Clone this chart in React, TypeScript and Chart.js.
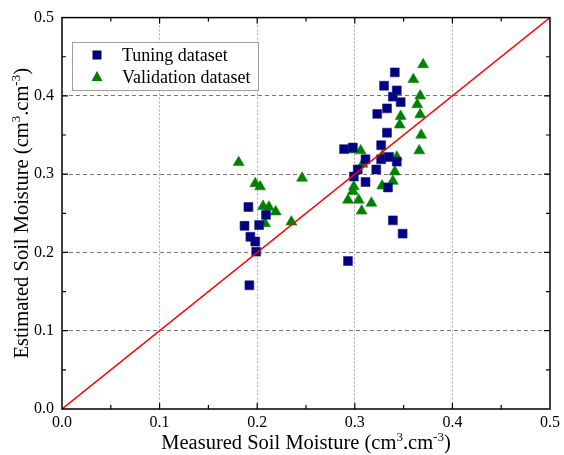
import React, { useEffect, useRef } from 'react';
import { Chart, registerables } from 'chart.js';

Chart.register(...registerables);

const tuningX = [0.192, 0.199, 0.198, 0.193, 0.187, 0.202, 0.209, 0.191, 0.293, 0.349, 0.339, 0.334, 0.311, 0.299, 0.303, 0.322, 0.311, 0.327, 0.335, 0.343, 0.289, 0.298, 0.327, 0.333, 0.323, 0.333, 0.347, 0.339, 0.343, 0.330, 0.341];
const tuningY = [0.158, 0.201, 0.214, 0.220, 0.234, 0.235, 0.248, 0.258, 0.189, 0.224, 0.241, 0.283, 0.290, 0.297, 0.306, 0.306, 0.319, 0.319, 0.322, 0.316, 0.332, 0.334, 0.337, 0.353, 0.377, 0.384, 0.392, 0.399, 0.407, 0.413, 0.430];
const validX = [0.181, 0.246, 0.198, 0.203, 0.206, 0.212, 0.219, 0.208, 0.235, 0.370, 0.360, 0.367, 0.364, 0.367, 0.347, 0.346, 0.368, 0.366, 0.296, 0.306, 0.343, 0.328, 0.308, 0.341, 0.339, 0.328, 0.299, 0.298, 0.293, 0.304, 0.317, 0.307];
const validY = [0.315, 0.295, 0.288, 0.284, 0.259, 0.258, 0.252, 0.237, 0.239, 0.440, 0.421, 0.400, 0.389, 0.376, 0.374, 0.363, 0.350, 0.330, 0.331, 0.330, 0.322, 0.323, 0.313, 0.303, 0.291, 0.285, 0.284, 0.278, 0.267, 0.267, 0.263, 0.253];
const lineX = [0, 0.5];
const lineY = [0, 0.5];
const seriesNames = ['Tuning dataset', 'Validation dataset'];
// axis titles: [text, isSuperscript]
const xTitleParts: [string, boolean][] = [['Measured Soil Moisture (cm', false], ['3', true], ['.cm', false], ['-3', true], [')', false]];
const yTitleParts: [string, boolean][] = [['Estimated Soil Moisture (cm', false], ['3', true], ['.cm', false], ['-3', true], [')', false]];
const axisMin = 0;
const axisMax = 0.5;
const majorStep = 0.1;

const FONT = '"Liberation Serif", "Times New Roman", serif';
const BLUE = '#000080';
const GREEN = '#008000';
const TITLE_SIZE = 20.5;
const SUP_SIZE = 13;

function drawTitle(ctx: CanvasRenderingContext2D, parts: [string, boolean][]) {
  const fontFor = (sup: boolean) => (sup ? SUP_SIZE : TITLE_SIZE) + 'px ' + FONT;
  let total = 0;
  for (const [t, sup] of parts) {
    ctx.font = fontFor(sup);
    total += ctx.measureText(t).width;
  }
  let x = -total / 2;
  ctx.textAlign = 'left';
  ctx.textBaseline = 'alphabetic';
  ctx.fillStyle = '#000';
  for (const [t, sup] of parts) {
    ctx.font = fontFor(sup);
    ctx.fillText(t, x, sup ? -8 : 0);
    x += ctx.measureText(t).width;
  }
}

const framePlugin = {
  id: 'frameTicks',
  afterDatasetsDraw(chart: any) {
    const { ctx, chartArea: a, scales } = chart;
    const xs = scales.x;
    const ys = scales.y;
    ctx.save();
    ctx.strokeStyle = '#000';
    ctx.lineWidth = 1.5;
    ctx.strokeRect(a.left, a.top, a.right - a.left, a.bottom - a.top);
    ctx.lineWidth = 1.2;
    const n = Math.round((axisMax - axisMin) / (majorStep / 2));
    for (let i = 1; i < n; i++) {
      const v = axisMin + (i * majorStep) / 2;
      const len = i % 2 === 0 ? 6 : 4;
      const px = xs.getPixelForValue(v);
      const py = ys.getPixelForValue(v);
      ctx.beginPath();
      ctx.moveTo(px, a.bottom);
      ctx.lineTo(px, a.bottom - len);
      ctx.moveTo(px, a.top);
      ctx.lineTo(px, a.top + len);
      ctx.moveTo(a.left, py);
      ctx.lineTo(a.left + len, py);
      ctx.moveTo(a.right, py);
      ctx.lineTo(a.right - len, py);
      ctx.stroke();
    }
    ctx.restore();
  },
  afterDraw(chart: any) {
    const { ctx, chartArea: a } = chart;
    ctx.save();
    ctx.fillStyle = '#fff';
    ctx.strokeStyle = '#a0a0a0';
    ctx.lineWidth = 1;
    ctx.fillRect(72.5, 42.5, 186, 48);
    ctx.strokeRect(72.5, 42.5, 186, 48);
    ctx.fillStyle = BLUE;
    ctx.fillRect(92.5, 50.5, 9, 9);
    ctx.fillStyle = GREEN;
    ctx.beginPath();
    ctx.moveTo(97, 71);
    ctx.lineTo(102.5, 81);
    ctx.lineTo(91.5, 81);
    ctx.closePath();
    ctx.fill();
    ctx.fillStyle = '#000';
    ctx.font = '18px ' + FONT;
    ctx.textAlign = 'left';
    ctx.textBaseline = 'middle';
    ctx.fillText(seriesNames[0], 122, 56);
    ctx.fillText(seriesNames[1], 122, 78);
    ctx.restore();

    // x title
    ctx.save();
    ctx.translate((a.left + a.right) / 2, 449);
    drawTitle(ctx, xTitleParts);
    ctx.restore();
    // y title
    ctx.save();
    ctx.translate(28, (a.top + a.bottom) / 2);
    ctx.rotate(-Math.PI / 2);
    drawTitle(ctx, yTitleParts);
    ctx.restore();
  },
};

export default function App() {
  const ref = useRef<HTMLCanvasElement | null>(null);
  useEffect(() => {
    document.body.style.margin = '0';
    const canvas = ref.current;
    if (!canvas) return;
    const gridColor = (c: string) => (ctx: any) => {
      const v = ctx.tick ? ctx.tick.value : 0;
      return v <= axisMin + 1e-9 || v >= axisMax - 1e-9 ? 'rgba(0,0,0,0)' : c;
    };
    const chart = new Chart(canvas, {
      type: 'scatter',
      data: {
        datasets: [
          {
            type: 'line',
            label: '1:1',
            data: lineX.map((x, i) => ({ x, y: lineY[i] })),
            borderColor: '#ff0000',
            borderWidth: 1.5,
            pointRadius: 0,
            showLine: true,
            fill: false,
          } as any,
          {
            label: seriesNames[0],
            data: tuningX.map((x, i) => ({ x, y: tuningY[i] })),
            pointStyle: 'rect',
            pointRadius: 6.3,
            backgroundColor: BLUE,
            borderColor: '#1c1c90',
            borderWidth: 0.6,
          },
          {
            label: seriesNames[1],
            data: validX.map((x, i) => ({ x, y: validY[i] })),
            pointStyle: 'triangle',
            pointRadius: 6.3,
            backgroundColor: GREEN,
            borderColor: '#0a8a0a',
            borderWidth: 0.6,
          },
        ],
      },
      options: {
        animation: false,
        responsive: false,
        layout: { padding: { top: 15, right: 11, left: 0, bottom: 0 } },
        plugins: { legend: { display: false }, tooltip: { enabled: false } },
        scales: {
          x: {
            type: 'linear',
            min: axisMin,
            max: axisMax,
            afterFit: (s: any) => { s.height = 46; },
            ticks: {
              stepSize: majorStep,
              callback: (v: any) => Number(v).toFixed(1),
              font: { family: FONT, size: 16 },
              color: '#000',
              padding: 4,
              maxRotation: 0,
            },
            grid: { color: gridColor('#a8a8a8'), drawTicks: false, lineWidth: 1 },
            border: { display: false, dash: [2, 2] },
            title: { display: false },
          },
          y: {
            type: 'linear',
            min: axisMin,
            max: axisMax,
            afterFit: (s: any) => { s.width = 62; },
            ticks: {
              stepSize: majorStep,
              callback: (v: any) => Number(v).toFixed(1),
              font: { family: FONT, size: 16 },
              color: '#000',
              padding: 8,
            },
            grid: { color: gridColor('#777777'), drawTicks: false, lineWidth: 1 },
            border: { display: false, dash: [4, 3] },
            title: { display: false },
          },
        },
      } as any,
      plugins: [framePlugin],
    });
    return () => chart.destroy();
  }, []);
  return (
    <div style={{ position: 'absolute', left: 0, top: 0, width: 564, height: 455, background: '#fff' }}>
      <canvas ref={ref} width={564} height={455} style={{ width: 564, height: 455, display: 'block' }} />
    </div>
  );
}
